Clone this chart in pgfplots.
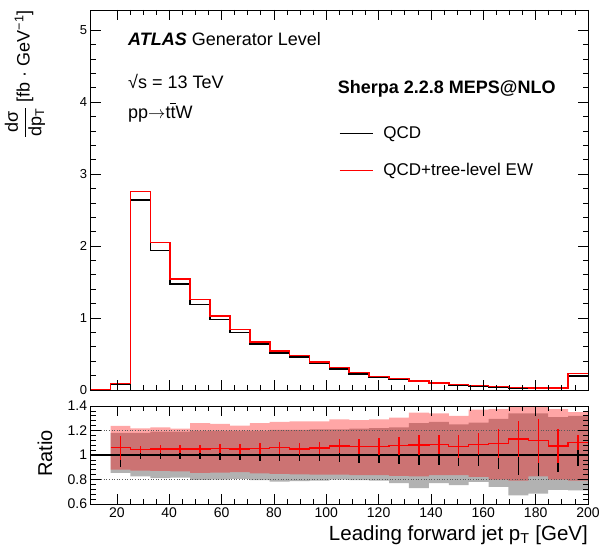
\documentclass[border=0pt]{standalone}
\usepackage{fontspec}
\setmainfont{Liberation Sans}
\usepackage{pgfplots}
\usepackage{pgfplotstable}
\pgfplotsset{compat=1.18}
\usepgfplotslibrary{fillbetween}

\definecolor{bandgrey}{RGB}{178,178,178}

\pgfplotstableread{
x r b
10.0 0.000 0.000
17.6 0.090 0.085
25.2 2.760 2.640
32.8 2.050 1.940
40.4 1.540 1.470
48.0 1.260 1.190
55.6 1.030 0.980
63.2 0.840 0.800
70.8 0.670 0.640
78.4 0.540 0.510
86.0 0.477 0.455
93.6 0.390 0.366
101.2 0.310 0.290
108.8 0.245 0.225
116.4 0.190 0.176
124.0 0.157 0.148
131.6 0.125 0.116
139.2 0.097 0.090
146.8 0.074 0.069
154.4 0.065 0.058
162.0 0.051 0.044
169.6 0.034 0.027
177.2 0.030 0.026
184.8 0.030 0.026
192.4 0.230 0.195
200.0 0.230 0.195
}\tophist

\pgfplotstableread{
x r ghi glo rhi rlo
17.6 1.060 1.180 0.855 1.237 0.880
25.2 1.046 1.180 0.825 1.217 0.872
32.8 1.050 1.190 0.812 1.225 0.870
40.4 1.050 1.190 0.815 1.215 0.866
48.0 1.050 1.200 0.796 1.260 0.855
55.6 1.055 1.200 0.800 1.255 0.856
63.2 1.050 1.200 0.805 1.240 0.860
70.8 1.055 1.200 0.795 1.260 0.850
78.4 1.060 1.205 0.782 1.270 0.845
86.0 1.050 1.205 0.786 1.275 0.842
93.6 1.058 1.210 0.790 1.275 0.840
101.2 1.073 1.210 0.800 1.290 0.840
108.8 1.068 1.215 0.795 1.285 0.836
116.4 1.068 1.220 0.790 1.290 0.835
124.0 1.075 1.225 0.770 1.305 0.830
131.6 1.082 1.260 0.730 1.345 0.825
139.2 1.087 1.270 0.770 1.340 0.835
146.8 1.068 1.250 0.755 1.320 0.835
154.4 1.087 1.265 0.780 1.370 0.822
162.0 1.095 1.295 0.740 1.375 0.800
169.6 1.130 1.340 0.670 1.400 0.790
177.2 1.117 1.340 0.685 1.400 0.825
184.8 1.073 1.310 0.715 1.375 0.800
192.4 1.100 1.320 0.712 1.350 0.790
200.0 1.100 1.320 0.712 1.350 0.790
}\ratioband

\pgfplotstableread{
xc r re be
21.4 1.060 0.097 0.095
29.0 1.046 0.030 0.030
36.6 1.050 0.030 0.030
44.2 1.050 0.032 0.032
51.8 1.050 0.035 0.035
59.4 1.055 0.038 0.038
67.0 1.050 0.040 0.040
74.6 1.055 0.045 0.045
82.2 1.060 0.048 0.048
89.8 1.050 0.050 0.050
97.4 1.058 0.052 0.052
105.0 1.073 0.058 0.058
112.6 1.068 0.062 0.062
120.2 1.068 0.068 0.068
127.8 1.075 0.075 0.075
135.4 1.082 0.085 0.085
143.0 1.087 0.080 0.082
150.6 1.068 0.095 0.090
158.2 1.087 0.090 0.090
165.8 1.095 0.120 0.115
173.4 1.130 0.150 0.160
181.0 1.117 0.180 0.170
188.6 1.073 0.136 0.140
196.2 1.100 0.060 0.090
}\ratiobars

\pgfplotsset{
  atlas/.style={
    scale only axis,
    width=497.3pt,
    xmin=10, xmax=200,
    xtick={20,40,...,200},
    minor x tick num=3,
    tick align=inside,
    axis on top,
    clip=false,
    axis line style={line width=0.8pt},
    every tick/.style={black, line width=0.7pt},
    major tick length=10pt,
    minor tick length=5pt,
    /pgf/number format/assume math mode=true,
    ticklabel style={font=\fontsize{14}{16}\selectfont},
  }
}

\begin{document}
\begin{tikzpicture}[x=1pt,y=1pt]
% ---------- top panel
\begin{axis}[atlas,
  at={(90.7pt,164pt)}, anchor=south west,
  height=380pt,
  ymin=0, ymax=5.28,
  ytick={0,1,2,3,4,5},
  minor y tick num=4,
  xticklabels={},
  yticklabel style={font=\fontsize{13}{15}\selectfont},
  legend style={at={(axis description cs:0.4985,0.626)}, anchor=west,
    draw=none, fill=none, inner sep=0pt, row sep=19pt,
    font=\fontsize{17}{20}\selectfont, cells={anchor=west}},
  legend cell align=left,
  legend image code/.code={\draw[#1,line width=1.5pt] (0pt,0pt) -- (33pt,0pt); \path (41pt,0pt);},
]
\addplot[black, line width=1.6pt, const plot] table[x=x,y=b]{\tophist};
\addlegendentry{QCD}
\addplot[red, line width=1.6pt, const plot] table[x=x,y=r]{\tophist};
\addlegendentry{QCD+tree-level EW}
\end{axis}

% ---------- ratio panel
\begin{axis}[atlas,
  at={(90.7pt,50pt)}, anchor=south west,
  height=98pt,
  ymin=0.6, ymax=1.4,
  ytick={0.6,0.8,1,1.2,1.4},
  minor y tick num=4,
]
\addplot[name path=ghi, const plot, draw=none, forget plot] table[x=x,y=ghi]{\ratioband};
\addplot[name path=glo, const plot, draw=none, forget plot] table[x=x,y=glo]{\ratioband};
\addplot[bandgrey, draw=none] fill between[of=ghi and glo];
\addplot[name path=rhi, const plot, draw=none, forget plot] table[x=x,y=rhi]{\ratioband};
\addplot[name path=rlo, const plot, draw=none, forget plot] table[x=x,y=rlo]{\ratioband};
\addplot[red, fill opacity=0.35, draw=none] fill between[of=rhi and rlo];
\addplot[gray!70!black, dotted, line width=0.6pt] coordinates {(10,1.2) (200,1.2)};
\addplot[gray!70!black, dotted, line width=0.6pt] coordinates {(10,0.8) (200,0.8)};
\addplot[black, line width=1.2pt] coordinates {(10,1) (200,1)};
\addplot[black, only marks, mark=*, mark size=0pt,
  error bars/.cd, y dir=both, y explicit, error mark=none,
  error bar style={black, line width=1.5pt}]
  table[x=xc, y expr=1, y error=be]{\ratiobars};
\addplot[red, line width=1.3pt, const plot] table[x=x,y=r]{\ratioband};
\addplot[red, only marks, mark=*, mark size=0pt,
  error bars/.cd, y dir=both, y explicit, error mark=none,
  error bar style={red, line width=1.5pt}]
  table[x=xc, y=r, y error=re]{\ratiobars};
\end{axis}

% ---------- texts
\node[anchor=base west, inner sep=0pt, font=\fontsize{18}{21}\selectfont]
  at (128pt,508.3pt) {\textbf{\textit{ATLAS}} Generator Level};
\node[anchor=base west, inner sep=0pt, font=\fontsize{18}{21}\selectfont]
  at (128pt,465.7pt) {√s = 13 TeV};
\node[anchor=base west, inner sep=0pt, font=\fontsize{18}{21}\selectfont]
  at (128pt,435.7pt) {pp$\rightarrow$t\makebox[0pt][l]{\hspace{-0.02em}\raisebox{0.78em}{\rule{0.3em}{0.06em}}}tW};
\node[anchor=base west, inner sep=0pt, font=\fontsize{18}{21}\selectfont]
  at (337.7pt,460.7pt) {\textbf{Sherpa 2.2.8 MEPS@NLO}};
\node[rotate=90, anchor=east, inner sep=0pt, font=\fontsize{18}{21}\selectfont]
  at (25pt,544pt) {$\displaystyle\frac{\mbox{dσ}}{\mbox{dp\textsubscript{T}}}$ [fb · GeV\textsuperscript{−1}]};
\node[rotate=90, inner sep=0pt, font=\fontsize{20}{24}\selectfont]
  at (45pt,100.5pt) {Ratio};
\node[anchor=base east, inner sep=0pt, font=\fontsize{20.5}{24}\selectfont]
  at (588pt,14pt) {Leading forward jet p\textsubscript{T} [GeV]};

\pgfresetboundingbox
\path[use as bounding box] (0pt,0pt) rectangle (602pt,554pt);
\end{tikzpicture}
\end{document}
